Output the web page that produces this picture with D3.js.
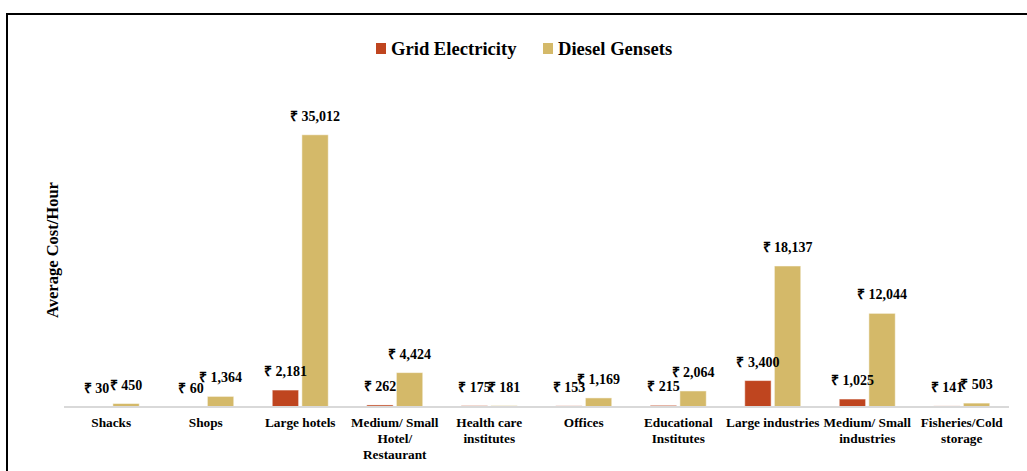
<!DOCTYPE html>
<html>
<head>
<meta charset="utf-8">
<script src="https://cdn.jsdelivr.net/npm/d3@7"></script>
<style>
  body { margin: 0; background: #fff; }
</style>
</head>
<body>
<div id="chart"></div>
<script>
var categories = [
  ["Shacks"], ["Shops"], ["Large hotels"], ["Medium/ Small", "Hotel/", "Restaurant"],
  ["Health care", "institutes"], ["Offices"], ["Educational", "Institutes"],
  ["Large industries"], ["Medium/ Small", "industries"], ["Fisheries/Cold", "storage"]
];
var gridValues   = [30, 60, 2181, 262, 175, 153, 215, 3400, 1025, 141];
var dieselValues = [450, 1364, 35012, 4424, 181, 1169, 2064, 18137, 12044, 503];
var seriesNames  = ["Grid Electricity", "Diesel Gensets"];
var colors = ["#BF451F", "#D4B969"];

var FONT = "Liberation Serif";

var W = 1027, H = 471;
var margin = {top: 96, right: 18, bottom: 64, left: 64},
    width = W - margin.left - margin.right,
    height = 407 - margin.top;

var svg = d3.select("#chart").append("svg")
    .attr("width", W)
    .attr("height", H);

// serif bold on every text node
function serif(sel, size) {
  return sel.attr("font-family", FONT)
      .style("font-family", FONT)
      .attr("font-weight", "bold")
      .attr("font-size", size)
      .attr("fill", "#000");
}

// frame
svg.append("rect")
    .attr("x", 7).attr("y", 14)
    .attr("width", 1040).attr("height", 520)
    .attr("fill", "none")
    .attr("stroke", "#000")
    .attr("stroke-width", 2);

var g = svg.append("g")
    .attr("transform", "translate(" + margin.left + "," + margin.top + ")");

var x = d3.scaleBand()
    .domain(d3.range(categories.length))
    .range([0, width]);

var x1 = d3.scaleBand()
    .domain([0, 1])
    .range([x.bandwidth() / 2 - 28, x.bandwidth() / 2 + 28])
    .paddingInner(0.11);

var y = d3.scaleLinear()
    .domain([0, 40000])
    .range([height, 0]);

var fmt = d3.format(",");

var groups = g.selectAll("g.cat")
    .data(categories.map(function(c, i) { return [gridValues[i], dieselValues[i]]; }))
    .enter().append("g")
    .attr("class", "cat")
    .attr("transform", function(d, i) { return "translate(" + x(i) + ",0)"; });

groups.selectAll("rect")
    .data(function(d) { return d; })
    .enter().append("rect")
    .attr("x", function(d, j) { return x1(j); })
    .attr("y", function(d) { return y(d); })
    .attr("width", x1.bandwidth())
    .attr("height", function(d) { return height - y(d); })
    .attr("fill", function(d, j) { return colors[j]; })
    .attr("stroke", "#fff")
    .attr("stroke-opacity", 0.5)
    .attr("stroke-width", 1);

groups.selectAll("text.val")
    .data(function(d) { return d; })
    .enter().append("text")
    .attr("class", "val")
    .attr("x", function(d, j) { return x1(j) + x1.bandwidth() / 2; })
    .attr("y", function(d) { return y(d) - 14; })
    .attr("text-anchor", "middle")
    .call(serif, 14)
    .text(function(d) { return "\u20B9 " + fmt(d); });

// baseline
g.append("line")
    .attr("x1", 0).attr("x2", width)
    .attr("y1", height).attr("y2", height)
    .attr("stroke", "#d9d9d9")
    .attr("stroke-width", 2);

// category labels
var xAxis = g.append("g")
    .attr("transform", "translate(0," + height + ")");
categories.forEach(function(lines, i) {
  var t = xAxis.append("text")
      .attr("x", x(i) + x.bandwidth() / 2)
      .attr("y", 20)
      .attr("text-anchor", "middle")
      .call(serif, 13.3);
  lines.forEach(function(l, k) {
    t.append("tspan")
        .attr("x", x(i) + x.bandwidth() / 2)
        .attr("dy", k === 0 ? 0 : 16)
        .text(l);
  });
});

// y title
svg.append("text")
    .attr("transform", "translate(58,250) rotate(-90)")
    .attr("text-anchor", "middle")
    .call(serif, 16.5)
    .text("Average Cost/Hour");

// legend
var legend = svg.append("g").attr("transform", "translate(376,43)");
var legX = [0, 167];
seriesNames.forEach(function(n, i) {
  legend.append("rect")
      .attr("x", legX[i]).attr("y", 0)
      .attr("width", 10).attr("height", 11)
      .attr("fill", colors[i]);
  legend.append("text")
      .attr("x", legX[i] + 15).attr("y", 12)
      .call(serif, 18.6)
      .text(n);
});
</script>
</body>
</html>
